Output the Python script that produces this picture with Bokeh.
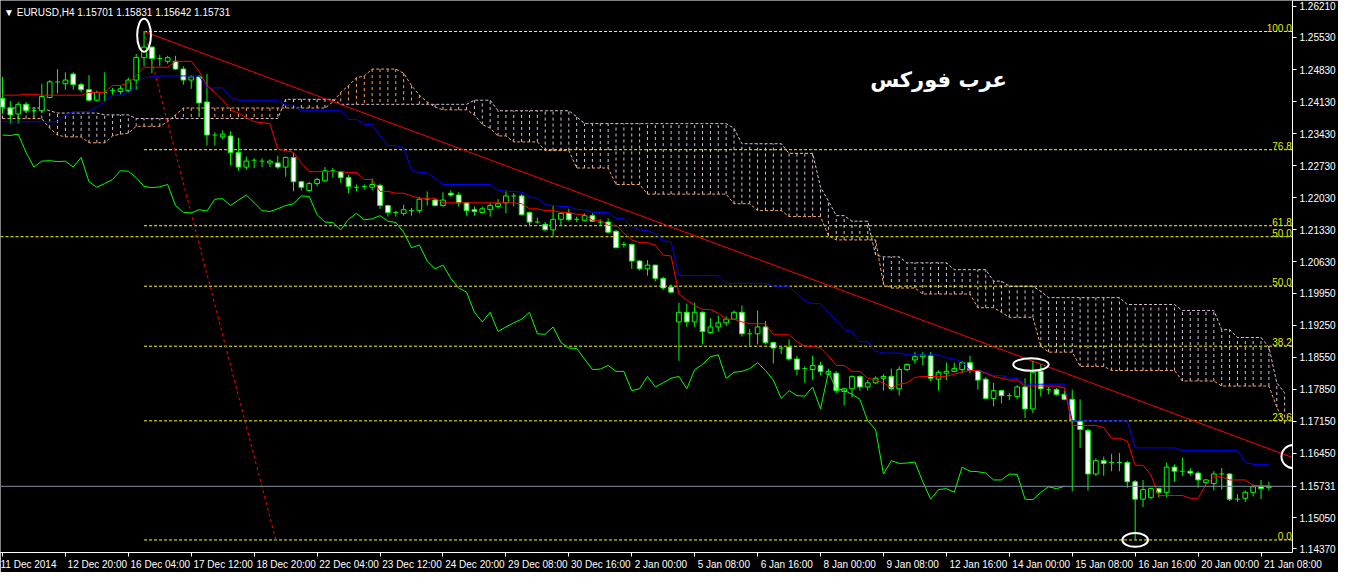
from bokeh.plotting import figure
from bokeh.models import Range1d, FixedTicker, NumeralTickFormatter, Label, Span
from bokeh.embed import file_html
from bokeh.resources import INLINE
from bokeh.core.properties import value

# ---------------- data (EURUSD H4) ----------------
time_labels = ["11 Dec 2014", "12 Dec 20:00", "16 Dec 04:00", "17 Dec 12:00", "18 Dec 20:00",
               "22 Dec 04:00", "23 Dec 12:00", "24 Dec 20:00", "29 Dec 08:00", "30 Dec 16:00",
               "2 Jan 00:00", "5 Jan 08:00", "6 Jan 16:00", "8 Jan 00:00", "9 Jan 08:00",
               "12 Jan 16:00", "14 Jan 00:00", "15 Jan 08:00", "16 Jan 16:00", "20 Jan 00:00",
               "21 Jan 08:00"]
label_bars = [0, 8, 16, 24, 32, 40, 48, 56, 64, 72, 80, 88, 96, 104, 112, 120, 128, 136, 144, 152, 160]

price_ticks = [1.26210, 1.25530, 1.24830, 1.24130, 1.23430, 1.22730, 1.22030, 1.21330, 1.20630,
               1.19950, 1.19250, 1.18550, 1.17850, 1.17150, 1.16450, 1.15731, 1.15050, 1.14370]

open_ = [1.2420, 1.2399, 1.2386, 1.2407, 1.2393, 1.2393, 1.2422, 1.2456, 1.2452, 1.2473,
         1.2450, 1.2439, 1.2416, 1.2433, 1.2437, 1.2435, 1.2437, 1.2460, 1.2509, 1.2532,
         1.2507, 1.2501, 1.2501, 1.2484, 1.2460, 1.2467, 1.2412, 1.2340, 1.2336, 1.2338,
         1.2302, 1.2270, 1.2285, 1.2283, 1.2279, 1.2279, 1.2270, 1.2291, 1.2238, 1.2219,
         1.2234, 1.2240, 1.2262, 1.2260, 1.2247, 1.2226, 1.2228, 1.2226, 1.2230, 1.2186,
         1.2171, 1.2169, 1.2175, 1.2175, 1.2200, 1.2198, 1.2186, 1.2213, 1.2209, 1.2192,
         1.2177, 1.2171, 1.2177, 1.2184, 1.2192, 1.2207, 1.2207, 1.2171, 1.2150, 1.2145,
         1.2133, 1.2156, 1.2169, 1.2156, 1.2154, 1.2164, 1.2150, 1.2150, 1.2130, 1.2101,
         1.2101, 1.2065, 1.2048, 1.2056, 1.2027, 1.2008, 1.1932, 1.1953, 1.1932, 1.1953,
         1.1909, 1.1921, 1.1930, 1.1938, 1.1953, 1.1906, 1.1906, 1.1921, 1.1887, 1.1875,
         1.1877, 1.1851, 1.1830, 1.1828, 1.1837, 1.1818, 1.1820, 1.1780, 1.1786, 1.1813,
         1.1790, 1.1799, 1.1809, 1.1813, 1.1786, 1.1828, 1.1849, 1.1856, 1.1858, 1.1807,
         1.1820, 1.1824, 1.1828, 1.1843, 1.1826, 1.1807, 1.1765, 1.1782, 1.1771, 1.1769,
         1.1790, 1.1742, 1.1824, 1.1784, 1.1784, 1.1774, 1.1763, 1.1716, 1.1695, 1.1600,
         1.1629, 1.1625, 1.1625, 1.1625, 1.1583, 1.1545, 1.1549, 1.1568, 1.1560, 1.1615,
         1.1606, 1.1606, 1.1602, 1.1581, 1.1579, 1.1600, 1.1600, 1.1545, 1.1547, 1.1560,
         1.1572, 1.15701]
high = [1.2467, 1.2414, 1.2412, 1.2412, 1.2401, 1.2452, 1.2460, 1.2484, 1.2477, 1.2477,
        1.2454, 1.2471, 1.2437, 1.2477, 1.2443, 1.2448, 1.2465, 1.2517, 1.2566, 1.2533,
        1.2515, 1.2513, 1.2513, 1.2490, 1.2471, 1.2471, 1.2473, 1.2346, 1.2350, 1.2348,
        1.2334, 1.2293, 1.2289, 1.2289, 1.2287, 1.2295, 1.2293, 1.2300, 1.2240, 1.2238,
        1.2247, 1.2270, 1.2268, 1.2262, 1.2253, 1.2232, 1.2232, 1.2245, 1.2234, 1.2188,
        1.2175, 1.2188, 1.2181, 1.2205, 1.2217, 1.2202, 1.2215, 1.2219, 1.2215, 1.2194,
        1.2184, 1.2184, 1.2192, 1.2200, 1.2219, 1.2213, 1.2211, 1.2173, 1.2160, 1.2150,
        1.2186, 1.2171, 1.2179, 1.2162, 1.2169, 1.2169, 1.2156, 1.2158, 1.2133, 1.2107,
        1.2103, 1.2067, 1.2067, 1.2057, 1.2031, 1.2014, 1.1974, 1.1972, 1.1974, 1.1955,
        1.1940, 1.1946, 1.1944, 1.1957, 1.1968, 1.1917, 1.1957, 1.1934, 1.1889, 1.1879,
        1.1894, 1.1858, 1.1835, 1.1858, 1.1845, 1.1830, 1.1824, 1.1788, 1.1815, 1.1815,
        1.1805, 1.1813, 1.1818, 1.1830, 1.1835, 1.1841, 1.1866, 1.1866, 1.1866, 1.1826,
        1.1843, 1.1843, 1.1847, 1.1858, 1.1827, 1.1811, 1.1799, 1.1784, 1.1777, 1.1794,
        1.1809, 1.1847, 1.1839, 1.1790, 1.1788, 1.1782, 1.1784, 1.1763, 1.1699, 1.1634,
        1.1638, 1.1644, 1.1646, 1.1629, 1.1587, 1.1587, 1.1570, 1.1570, 1.1625, 1.1621,
        1.1636, 1.1613, 1.1606, 1.1589, 1.1606, 1.1613, 1.1602, 1.1556, 1.1564, 1.1577,
        1.1587, 1.15831]
low = [1.2386, 1.2365, 1.2365, 1.2388, 1.2380, 1.2388, 1.2420, 1.2431, 1.2439, 1.2439,
       1.2433, 1.2414, 1.2414, 1.2414, 1.2427, 1.2429, 1.2433, 1.2439, 1.2490, 1.2475,
       1.2490, 1.2496, 1.2482, 1.2450, 1.2441, 1.2384, 1.2317, 1.2317, 1.2331, 1.2274,
       1.2262, 1.2264, 1.2268, 1.2270, 1.2270, 1.2266, 1.2249, 1.2217, 1.2219, 1.2217,
       1.2228, 1.2238, 1.2247, 1.2236, 1.2213, 1.2217, 1.2221, 1.2219, 1.2179, 1.2162,
       1.2162, 1.2164, 1.2164, 1.2169, 1.2186, 1.2184, 1.2184, 1.2205, 1.2184, 1.2164,
       1.2164, 1.2169, 1.2162, 1.2179, 1.2169, 1.2184, 1.2164, 1.2141, 1.2147, 1.2131,
       1.2120, 1.2143, 1.2152, 1.2150, 1.2152, 1.2150, 1.2141, 1.2127, 1.2093, 1.2094,
       1.2048, 1.2044, 1.2033, 1.2021, 1.2002, 1.1995, 1.1847, 1.1921, 1.1921, 1.1883,
       1.1906, 1.1911, 1.1923, 1.1936, 1.1900, 1.1879, 1.1883, 1.1883, 1.1841, 1.1862,
       1.1847, 1.1815, 1.1799, 1.1805, 1.1815, 1.1815, 1.1777, 1.1750, 1.1767, 1.1782,
       1.1782, 1.1796, 1.1782, 1.1782, 1.1771, 1.1824, 1.1841, 1.1837, 1.1803, 1.1782,
       1.1805, 1.1822, 1.1820, 1.1820, 1.1784, 1.1763, 1.1748, 1.1754, 1.1761, 1.1763,
       1.1722, 1.1733, 1.1769, 1.1774, 1.1771, 1.1761, 1.1562, 1.1657, 1.1564, 1.1596,
       1.1596, 1.1606, 1.1606, 1.1570, 1.1456, 1.1528, 1.1545, 1.1549, 1.1549, 1.1583,
       1.1596, 1.1596, 1.1570, 1.1577, 1.1564, 1.1566, 1.1541, 1.1539, 1.1539, 1.1551,
       1.1545, 1.15642]
close = [1.2401, 1.2384, 1.2407, 1.2393, 1.2392, 1.2424, 1.2456, 1.2455, 1.2460, 1.2450,
         1.2439, 1.2416, 1.2433, 1.2432, 1.2436, 1.2441, 1.2460, 1.2509, 1.2532, 1.2507,
         1.2506, 1.2509, 1.2484, 1.2460, 1.2467, 1.2410, 1.2340, 1.2339, 1.2342, 1.2302,
         1.2270, 1.2283, 1.2284, 1.2282, 1.2283, 1.2270, 1.2291, 1.2238, 1.2226, 1.2234,
         1.2243, 1.2262, 1.2261, 1.2247, 1.2228, 1.2225, 1.2227, 1.2232, 1.2186, 1.2171,
         1.2170, 1.2177, 1.2174, 1.2200, 1.2201, 1.2186, 1.2198, 1.2209, 1.2192, 1.2175,
         1.2173, 1.2179, 1.2186, 1.2190, 1.2207, 1.2206, 1.2166, 1.2150, 1.2149, 1.2133,
         1.2156, 1.2169, 1.2155, 1.2157, 1.2164, 1.2152, 1.2149, 1.2128, 1.2094, 1.2100,
         1.2065, 1.2048, 1.2056, 1.2027, 1.2006, 1.1997, 1.1953, 1.1932, 1.1953, 1.1911,
         1.1921, 1.1930, 1.1938, 1.1953, 1.1906, 1.1905, 1.1921, 1.1887, 1.1875, 1.1874,
         1.1851, 1.1828, 1.1829, 1.1837, 1.1824, 1.1824, 1.1782, 1.1786, 1.1813, 1.1790,
         1.1799, 1.1809, 1.1813, 1.1786, 1.1828, 1.1839, 1.1856, 1.1860, 1.1809, 1.1822,
         1.1824, 1.1830, 1.1843, 1.1826, 1.1805, 1.1765, 1.1782, 1.1771, 1.1770, 1.1790,
         1.1742, 1.1822, 1.1786, 1.1783, 1.1774, 1.1763, 1.1716, 1.1697, 1.1600, 1.1629,
         1.1623, 1.1624, 1.1626, 1.1583, 1.1545, 1.1566, 1.1568, 1.1560, 1.1615, 1.1606,
         1.1605, 1.1602, 1.1587, 1.1587, 1.1600, 1.1599, 1.1545, 1.1544, 1.1560, 1.1572,
         1.1568, 1.15731]

# Ichimoku lines
tenkan = ([1.2427]*3 + [1.2429]*2 + [1.2427]*6 + [1.2433]*3 + [1.2448]*2 + [1.2454, 1.2469] + [1.2488]*4 + [1.2501]*3 +
          [1.2479, 1.2448, 1.2433, 1.2416, 1.2395, 1.2388, 1.2378, 1.2369, 1.2367, 1.2365, 1.2310, 1.2306, 1.2302, 1.2279] +
          [1.2260]*5 + [1.2258]*2 + [1.2243]*2 + [1.2217]*2 + [1.2213]*2 + [1.2207] + [1.2202]*3 + [1.2192]*10 + [1.2190] +
          [1.2179]*2 + [1.2175]*2 + [1.2171]*2 + [1.2167]*2 + [1.2154]*2 + [1.2143]*2 + [1.2126, 1.2111] + [1.2105]*2 +
          [1.2099, 1.2078, 1.2076, 1.1993, 1.1980, 1.1968] + [1.1959]*2 + [1.1951] + [1.1938]*2 + [1.1932] + [1.1928]*3 +
          [1.1904]*3 + [1.1889] + [1.1879]*2 + [1.1875, 1.1858] + [1.1837]*2 + [1.1824]*2 +
          [1.1809, 1.1805, 1.1799, 1.1788, 1.1796, 1.1799, 1.1811] +
          [1.1813]*4 + [1.1818, 1.1822] + [1.1826]*2 + [1.1820, 1.1813, 1.1809] + [1.1805]*2 + [1.1792]*5 + [1.1788] +
          [1.1706]*4 + [1.1701] + [1.1678]*2 + [1.1672] + [1.1619]*2 + [1.1598] + [1.1553]*4 + [1.1547]*2 + [1.1577] +
          [1.1594]*2 + [1.1587]*3 + [1.1575]*3)
kijun = ([1.2369]*8 + [1.2384] + [1.2391]*3 + [1.2401, 1.2414] + [1.2427]*2 + [1.2433, 1.2448, 1.2465, 1.2467] + [1.2469]*6 +
         [1.2443]*3 + [1.2422] + [1.2416]*6 + [1.2405]*2 + [1.2393]*6 + [1.2374]*2 + [1.2363]*2 + [1.2338] + [1.2317]*2 +
         [1.2312, 1.2264] + [1.2258]*2 + [1.2245] + [1.2232]*7 + [1.2219] + [1.2217]*2 + [1.2215, 1.2205, 1.2202, 1.2188, 1.2186] +
         [1.2184]*2 + [1.2177]*2 + [1.2171]*3 + [1.2158]*2 + [1.2139, 1.2133, 1.2131, 1.2124, 1.2109, 1.2107] + [1.2033]*6 +
         [1.2016]*6 + [1.2010]*3 + [1.1993, 1.1978] + [1.1972]*2 + [1.1953, 1.1936, 1.1915, 1.1911] + [1.1889]*2 + [1.1868] +
         [1.1864]*3 + [1.1860]*5 + [1.1854, 1.1851, 1.1845] + [1.1826]*2 + [1.1822] + [1.1815]*2 + [1.1809]*2 + [1.1796]*6 +
         [1.1716]*8 + [1.1657]*6 + [1.1651]*8 + [1.1625] + [1.1621]*3)
span_a = ([1.2376]*6 + [1.2355, 1.2340] + [1.2336]*3 + [1.2323]*3 + [1.2338, 1.2342, 1.2344] + [1.2359]*4 + [1.2369, 1.2384] +
          [1.2399]*19 + [1.2412, 1.2433, 1.2448, 1.2465, 1.2469] + [1.2484]*4 + [1.2475, 1.2448, 1.2427, 1.2412, 1.2401] +
          [1.2395]*4 + [1.2384, 1.2363, 1.2355] + [1.2338]*2 + [1.2325]*4 + [1.2306]*4 + [1.2268]*5 + [1.2232]*4 +
          [1.2211]*11 + [1.2190]*3 + [1.2175]*4 + [1.2162]*5 + [1.2120] + [1.2111]*6 + [1.2014] + [1.2006]*4 + [1.1993]*7 +
          [1.1963]*3 + [1.1953] + [1.1942]*4 + [1.1879] + [1.1866]*4 + [1.1835]*4 + [1.1826]*9 + [1.1803]*5 + [1.1792]*7 +
          [1.1746, 1.1710])
span_b = ([1.2399]*6 + [1.2393] + [1.2388]*6 + [1.2384]*4 + [1.2376]*19 + [1.2418]*7 + [1.2407]*17 + [1.2416]*3 +
          [1.2393]*10 + [1.2380] + [1.2365]*19 + [1.2355] + [1.2321]*6 + [1.2300]*4 + [1.2226, 1.2196] + [1.2164]*2 +
          [1.2152]*3 + [1.2078] + [1.2074]*3 + [1.2061]*6 + [1.2046]*5 + [1.2021]*2 + [1.2010]*4 + [1.1999] + [1.1985]*10 +
          [1.1970]*7 + [1.1957]*5 + [1.1915]*2 + [1.1898]*4 + [1.1877, 1.1799, 1.1777])

# Fibonacci retracement levels and drawn objects
fib_labels = ["100.0", "76.8", "61.8", "50.0", "50.0", "38.2", "23.6", "0.0"]
fib_prices = [1.2566, 1.2308, 1.2142, 1.2118, 1.2010, 1.1879, 1.1716, 1.1456]
fib_start = [18, 18, 18, -0.25, 18, 18, 18, 18]
fib_diag_bars = [18, 34.75]
fib_diag_prices = [1.2566, 1.1456]
trend_bars = [18, 164]
trend_prices = [1.2566, 1.1636]
ell_bars = [18, 130.75, 164.1, 144]
ell_prices = [1.2558, 1.1839, 1.1638, 1.1456]
ell_w = [1.75, 4.5, 3.0, 3.25]
ell_h = [0.0072, 0.00275, 0.0051, 0.0030]
last_price = 1.15731
header = "\u25BC EURUSD,H4  1.15701 1.15831 1.15642 1.15731"
watermark = "عرب فوركس"

n = len(close)
assert len(open_) == n == len(high) == len(low) == 162
assert len(tenkan) == n and len(kijun) == n
assert len(span_a) == 164 and len(span_b) == 164
bars = list(range(n))
cloud_bars = list(range(len(span_a)))

LIME = "#00FF00"
FONT = "Liberation Sans"

# Bokeh centres x tick labels; pad them on the left with no-break spaces so that the
# visible text starts just right of its tick, as in MetaTrader (first one is kept in view).
_w = {" ": 2.78, ":": 2.78, "D": 7.22, "J": 5.0, "c": 5.0}
def left_pad(s, k):
    if k == 0:
        return s
    width = sum(_w.get(ch, 5.56) for ch in s)
    return "\u00A0" * int(round((width + 5) / 2.78)) + s

p = figure(frame_width=1292, frame_height=552,
           x_range=Range1d(-0.25, 164.0), y_range=Range1d(1.14286, 1.26337),
           output_backend="svg", toolbar_location=None, y_axis_location="right",
           background_fill_color="black", border_fill_color="black",
           min_border_left=0, min_border_top=0, min_border_right=0, min_border_bottom=0)
p.grid.visible = False
p.outline_line_color = None

# Kumo hatch
hatch_col = ["#F4A460" if a >= b else "#D8BFD8" for a, b in zip(span_a, span_b)]
p.segment(x0=cloud_bars, y0=span_a, x1=cloud_bars, y1=span_b, line_color=hatch_col,
          line_dash="3 3", line_width=1)
p.line(cloud_bars, span_a, line_color="#F4A460", line_dash="3 2", line_width=1)
p.line(cloud_bars, span_b, line_color="#D8BFD8", line_dash="3 2", line_width=1)

# Fibonacci
p.segment(x0=fib_start, y0=fib_prices, x1=[164.0]*len(fib_prices), y1=fib_prices,
          line_color="#FFFF00", line_dash="3 2", line_width=1)
p.text(x=[163.9]*len(fib_prices), y=fib_prices, text=fib_labels, text_align="right",
       text_baseline="bottom", text_color="#E0E800", text_font_size="10px", text_font=value(FONT))
p.line(fib_diag_bars, fib_diag_prices, line_color="red", line_dash="3 3", line_width=1)
p.line(trend_bars, trend_prices, line_color="red", line_width=1)

# current price line
p.add_layout(Span(location=last_price, dimension="width", line_color="#8090A0", line_width=1))

# candles
up = [i for i in bars if close[i] - open_[i] > 0.00015]
dn = [i for i in bars if open_[i] - close[i] > 0.00015]
dj = [i for i in bars if abs(close[i] - open_[i]) <= 0.00015]
p.segment(x0=bars, y0=low, x1=bars, y1=high, line_color=LIME, line_width=1)
p.vbar(x=up, bottom=[open_[i] for i in up], top=[close[i] for i in up], width=0.6,
       fill_color="black", line_color=LIME, line_width=1)
p.vbar(x=dn, bottom=[close[i] for i in dn], top=[open_[i] for i in dn], width=0.6,
       fill_color="white", line_color=LIME, line_width=1)
p.segment(x0=[i - 0.3 for i in dj], y0=[open_[i] for i in dj], x1=[i + 0.3 for i in dj],
          y1=[open_[i] for i in dj], line_color=LIME, line_width=1)

# Ichimoku lines
p.line(bars[:n - 26], close[26:], line_color=LIME, line_width=1)
p.line(bars, kijun, line_color="#0000FF", line_width=1)
p.line(bars, tenkan, line_color="#FF0000", line_width=1)

# ellipses
p.ellipse(x=ell_bars, y=ell_prices, width=ell_w, height=ell_h, fill_color=None,
          line_color="white", line_width=2)

# texts
p.add_layout(Label(x=0.2, y=1.2608, text=header, text_color="white", text_font=FONT,
                   text_font_size="10px", text_baseline="middle", text_align="left"))
p.add_layout(Label(x=119, y=1.2460, text=watermark, text_color="white", text_font="DejaVu Sans",
                   text_font_style="bold", text_font_size="21px", text_baseline="middle",
                   text_align="center"))

# axes
for ax in (p.xaxis, p.yaxis):
    ax.axis_line_color = "white"
    ax.major_tick_line_color = "white"
    ax.minor_tick_line_color = None
    ax.major_label_text_color = "white"
    ax.major_label_text_font = FONT
    ax.major_label_text_font_size = "10px"
    ax.major_tick_in = 0
    ax.major_tick_out = 4
p.xaxis.ticker = FixedTicker(ticks=label_bars)
p.xaxis.major_label_overrides = {b: left_pad(t, k) for k, (b, t) in enumerate(zip(label_bars, time_labels))}
p.xaxis.major_label_standoff = 2
p.yaxis.ticker = FixedTicker(ticks=price_ticks)
p.yaxis.formatter = NumeralTickFormatter(format="0.00000")
p.yaxis.major_label_standoff = 3

open("out.html", "w").write(file_html(p, INLINE))
